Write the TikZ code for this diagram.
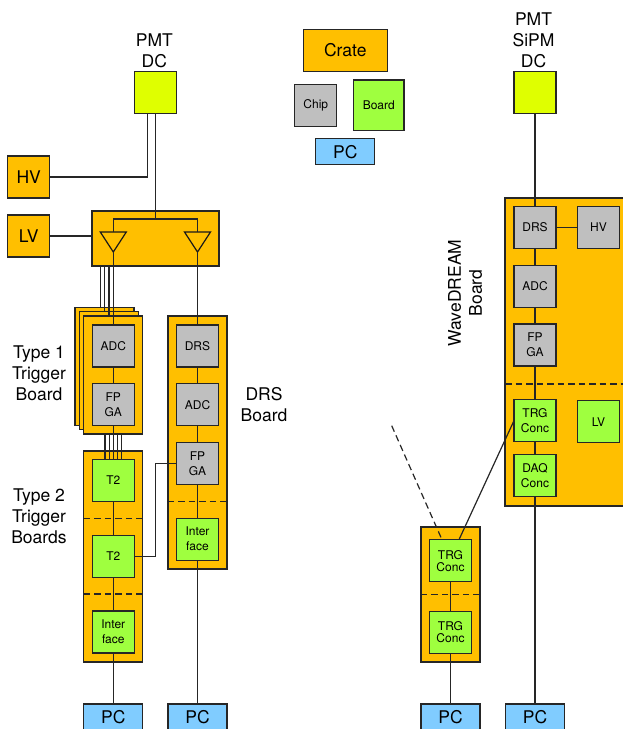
\documentclass[tikz,border=0pt]{standalone}
\usepackage{fontspec}
\setmainfont{TeX Gyre Heros}
\usetikzlibrary{shapes.geometric,positioning}
\definecolor{crateorange}{HTML}{FFBF00}
\definecolor{chipgray}{HTML}{BFBFBF}
\definecolor{boardgreen}{HTML}{9FFF3F}
\definecolor{pcblue}{HTML}{80CCFF}
\definecolor{dcyellow}{HTML}{DFFF00}
\tikzset{
  crate/.style = {draw=black!85, fill=crateorange, line width=1.2pt, rectangle, outer sep=0pt, inner sep=0pt, align=center, font=\fontsize{17.5}{21}\selectfont},
  chip/.style = {draw=black!85, fill=chipgray, line width=1.2pt, rectangle, minimum size=42pt, outer sep=0pt, inner sep=0pt, align=center, font=\fontsize{12}{15}\selectfont},
  board/.style = {chip, fill=boardgreen},
  pc/.style = {crate, fill=pcblue, minimum width=59pt, minimum height=26pt},
  dc/.style = {chip, fill=dcyellow},
  amp/.style = {draw=black!90, line width=1.2pt, isosceles triangle, isosceles triangle stretches, shape border rotate=-90, minimum width=26pt, minimum height=20pt, inner sep=0pt, outer sep=0pt, anchor=apex},
  lbl/.style = {align=center, inner sep=0pt, font=\fontsize{17.5}{21}\selectfont},
  wire/.style = {draw=black!85, line width=1.2pt},
  sep/.style = {draw=black!85, line width=1.2pt, dash pattern=on 6.5pt off 4pt}
}
\begin{document}
\begin{tikzpicture}[x=1pt, y=-1pt, node distance=16.7pt]
        \useasboundingbox (0,0) rectangle (623,729);
        % legend
        \node[crate, minimum width=84pt, minimum height=42pt] (legCrate) at (345.3,50.6) {Crate};
        \node[chip] (legChip) at (315.8,105.3) {Chip};
        \node[board, minimum width=50.5pt, minimum height=50.5pt] (legBoard) at (378.8,105.3) {Board};
        \node[pc] (legPC) at (345.3,151.8) {PC};
        % front end of the left chain
        \node[dc] (dcL) at (155.3,92.5) {};
        \node[lbl, above=3pt of dcL, xshift=-1pt] (dcLtxt) {PMT\\DC};
        \node[crate, minimum width=42pt, minimum height=42pt] (hv) at (28.7,177) {HV};
        \node[crate, minimum width=42pt, minimum height=42pt] (lv) at (28.7,236) {LV};
        \node[crate, minimum width=127pt, minimum height=55pt] (ampBox) at (155.5,238.5) {};
        \node[amp] (ampL) at (113.3,252) {};
        \node[amp] (ampR) at (197.5,252) {};
        \coordinate (bus) at (155.3,219);
        \draw[wire] (dcL.south) -- (bus);
        \draw[wire] (ampL.north) |- (bus) -| (ampR.north);
        \draw[wire] ([xshift=-8pt]dcL.south) |- (hv.east);
        \draw[wire] (lv.east) -- (lv.east -| ampBox.west);
        % type 1 trigger boards
        \node[crate, minimum width=59pt, minimum height=118pt] (trgA) at (104.5,366.5) {};
        \node[crate, minimum width=59pt, minimum height=118pt] (trgB) at (108.9,370.8) {};
        \node[crate, minimum width=59pt, minimum height=118pt] (trgC) at (113.3,375) {};
        \node[chip] (adcT) at (113.3,346) {ADC};
        \node[chip, below=of adcT] (fpgaT) {FP\\GA};
        \node[lbl] (typeOne) at (39,373) {Type 1\\Trigger\\Board};
        \draw[wire] ([xshift=-4.4pt]trgA.north) -- ([xshift=-4.4pt]trgA.north |- ampBox.south);
        \draw[wire] ([xshift=-4.4pt]trgB.north) -- ([xshift=-4.4pt]trgB.north |- ampBox.south);
        \draw[wire] ([xshift=-4.4pt]trgC.north) -- ([xshift=-4.4pt]trgC.north |- ampBox.south);
        \draw[wire] (ampL.apex) -- (adcT.north);
        \draw[wire] (adcT) -- (fpgaT);
        % DRS board
        \node[crate, minimum width=59pt, minimum height=253pt] (drsBoard) at (197.5,442.5) {};
        \node[chip] (drsD) at (197.5,346) {DRS};
        \node[chip, below=of drsD] (adcD) {ADC};
        \node[chip, below=of adcD] (fpgaD) {FP\\GA};
        \node[board, below=33.7pt of fpgaD] (ifD) {Inter\\face};
        \node[lbl] (drsTxt) at (264,404.5) {DRS\\Board};
        \coordinate (sepD) at (167.7,501.7);
        \draw[sep] (sepD) -- (sepD -| drsBoard.east);
        \draw[wire] (ampR.apex) -- (drsD.north);
        \draw[wire] (drsD) -- (adcD);
        \draw[wire] (adcD) -- (fpgaD);
        \draw[wire] (fpgaD) -- (ifD);
        \node[pc] (pcD) at (197.5,717) {PC};
        \draw[wire] (ifD) -- (pcD);
        % type 2 trigger boards
        \node[crate, minimum width=59pt, minimum height=211pt] (trgTwo) at (113.3,556.5) {};
        \node[board] (tTwoA) at (113.3,480.5) {T2};
        \node[board, below=33.7pt of tTwoA] (tTwoB) {T2};
        \node[board, below=33.7pt of tTwoB] (ifT) {Inter\\face};
        \node[lbl] (typeTwo) at (39,516) {Type 2\\Trigger\\Boards};
        \coordinate (sepA) at (83.8,518.7);
        \coordinate (sepB) at (83.8,594);
        \draw[sep] (sepA) -- (sepA -| trgTwo.east);
        \draw[sep] (sepB) -- (sepB -| trgTwo.east);
        \draw[wire] ([xshift=-8.4pt]fpgaT.south |- trgC.south) -- ([xshift=-8.4pt]tTwoA.north);
        \draw[wire] ([xshift=-4.2pt]fpgaT.south |- trgC.south) -- ([xshift=-4.2pt]tTwoA.north);
        \draw[wire] (fpgaT.south) -- (tTwoA.north);
        \draw[wire] ([xshift=4.2pt]fpgaT.south |- trgC.south) -- ([xshift=4.2pt]tTwoA.north);
        \draw[wire] ([xshift=8.4pt]fpgaT.south |- trgC.south) -- ([xshift=8.4pt]tTwoA.north);
        \draw[wire] (tTwoA) -- (tTwoB);
        \draw[wire] (tTwoB) -- (ifT);
        \draw[wire] (tTwoB.east) -- ++(21,0) |- (fpgaD.west);
        \node[pc] (pcT) at (113.3,717) {PC};
        \draw[wire] (ifT) -- (pcT);
        % WaveDREAM board
        \node[dc] (dcR) at (535,92.5) {};
        \node[lbl] (dcRtxt) at (533.5,40) {PMT\\SiPM\\DC};
        \node[crate, minimum width=125pt, minimum height=308pt] (wave) at (567.5,352) {};
        \node[chip] (drsW) at (535,227.5) {DRS};
        \node[chip] (hvW) at (598.5,227.5) {HV};
        \node[chip, below=of drsW] (adcW) {ADC};
        \node[chip, below=of adcW] (fpgaW) {FP\\GA};
        \node[board, below=33.7pt of fpgaW] (trgW) {TRG\\Conc};
        \node[board] (lvW) at (598.5,421.7) {LV};
        \node[board, below=12.7pt of trgW] (daqW) {DAQ\\Conc};
        \node[lbl, rotate=90] (waveTxt) at (465,293) {WaveDREAM\\Board};
        \coordinate (sepW) at (505,384);
        \draw[sep] (sepW) -- (sepW -| wave.east);
        \draw[wire] (dcR) -- (drsW);
        \draw[wire] (drsW) -- (hvW);
        \draw[wire] (drsW) -- (adcW);
        \draw[wire] (adcW) -- (fpgaW);
        \draw[wire] (fpgaW) -- (trgW);
        \draw[wire] (trgW) -- (daqW);
        \node[pc] (pcW) at (535,717) {PC};
        \draw[wire] (daqW) -- (pcW);
        % concentrator crate
        \node[crate, minimum width=59pt, minimum height=135pt] (conc) at (450.5,594.5) {};
        \node[board] (concA) at (450.5,560.7) {TRG\\[-3pt]Conc};
        \node[board] (concB) at (450.5,632.3) {TRG\\[-3pt]Conc};
        \coordinate (sepC) at (420.8,594.7);
        \coordinate (farEnd) at (391.7,425.7);
        \draw[sep] (sepC) -- (sepC -| conc.east);
        \draw[wire] (concA) -- (concB);
        \draw[sep] (farEnd) -- ([xshift=-8.5pt]concA.north);
        \draw[wire] ([xshift=8.5pt]concA.north) -- (trgW.west);
        \node[pc] (pcC) at (450.5,717) {PC};
        \draw[wire] (concB) -- (pcC);
    \end{tikzpicture}
\end{document}
